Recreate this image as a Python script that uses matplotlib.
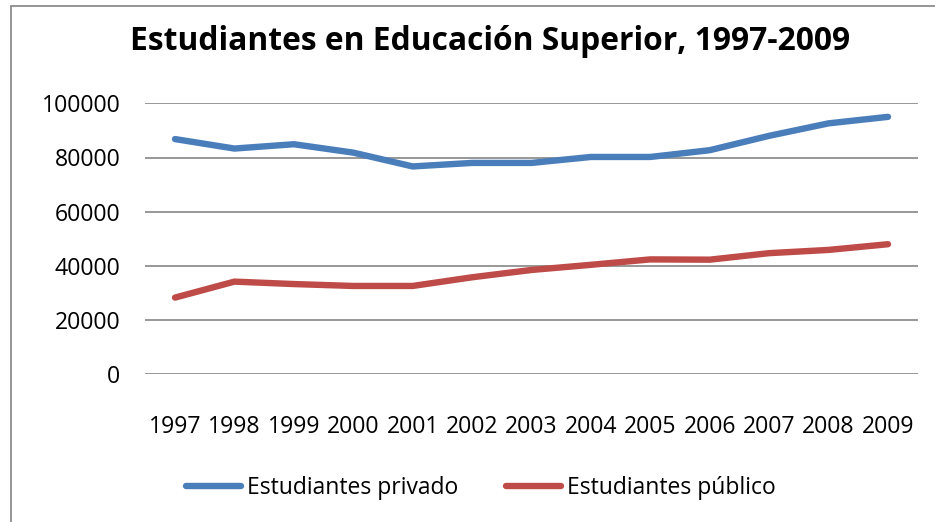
import matplotlib
matplotlib.use("Agg")
import matplotlib.pyplot as plt
from matplotlib.patches import Rectangle

years = ["1997", "1998", "1999", "2000", "2001", "2002", "2003",
         "2004", "2005", "2006", "2007", "2008", "2009"]
privado = [86800, 83300, 84900, 81800, 76700, 78000, 78000,
           80200, 80200, 82700, 88000, 92600, 95000]
publico = [28300, 34200, 33300, 32600, 32600, 35800, 38500,
           40400, 42400, 42300, 44700, 45900, 48000]
yticks = [0, 20000, 40000, 60000, 80000, 100000]

W, H = 935, 522
fig = plt.figure(figsize=(W / 100, H / 100), dpi=100)
fig.patch.set_facecolor("white")

# chart-area border (extends beyond right/bottom edges as in the reference)
fig.patches.append(Rectangle((11 / W, -0.05), 1.2, 1 - 6 / H + 0.05,
                             transform=fig.transFigure, fill=False,
                             edgecolor="#8c8c8c", linewidth=1.3))

left, right = 145.3 / W, 917.7 / W
bottom, top = 1 - 374.3 / H, 1 - 103.3 / H
ax = fig.add_axes([left, bottom, right - left, top - bottom])

x = list(range(len(years)))
ax.plot(x, privado, color="#4A7EBB", linewidth=4.6, solid_capstyle="round",
        solid_joinstyle="round", label="Estudiantes privado", zorder=3)
ax.plot(x, publico, color="#BE4B48", linewidth=4.6, solid_capstyle="round",
        solid_joinstyle="round", label="Estudiantes público", zorder=3)

ax.set_xlim(-0.5, len(years) - 0.5)
ax.set_ylim(0, 100000)
ax.set_yticks(yticks)
ax.set_yticklabels([str(v) for v in yticks])
ax.set_xticks(x)
ax.set_xticklabels(years)
ax.grid(axis="y", color="#868686", linewidth=1.2)
ax.set_axisbelow(True)
for s in ax.spines.values():
    s.set_visible(False)
ax.tick_params(axis="both", length=0, labelsize=16.6)
ax.tick_params(axis="y", pad=18)
ax.tick_params(axis="x", pad=29)
for lab in ax.get_xticklabels() + ax.get_yticklabels():
    lab.set_fontfamily("Open Sans")

fig.text(490 / W, 1 - 42 / H, "Estudiantes en Educación Superior, 1997-2009",
         ha="center", va="center", fontsize=22.9, fontweight="bold",
         family="Open Sans")

leg = fig.legend(loc="center", bbox_to_anchor=(481 / W, 1 - 488 / H),
                 ncol=2, frameon=False, prop={"family": "Open Sans", "size": 16.5},
                 handlelength=2.4, handletextpad=0.25, columnspacing=2.1)

fig.savefig("out.png", dpi=100, facecolor="white")
